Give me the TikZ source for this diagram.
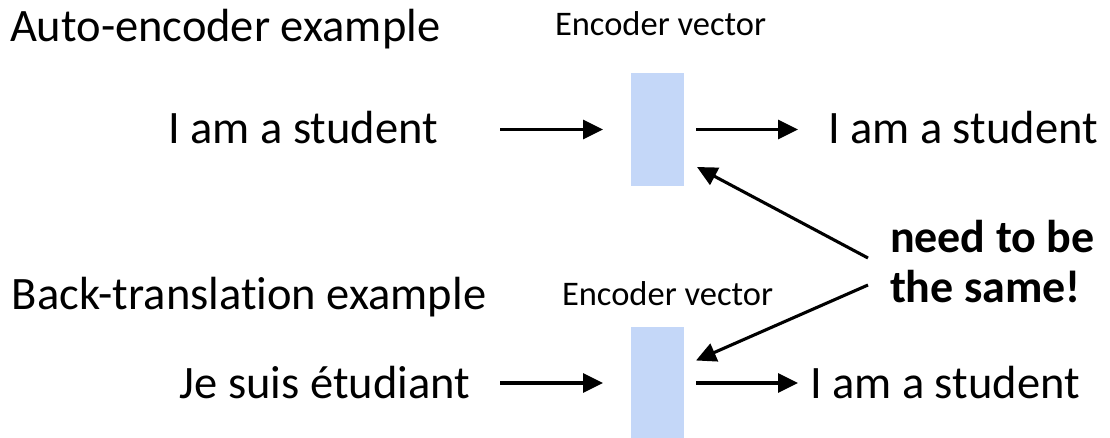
\documentclass[tikz,border=0pt]{standalone}
\usepackage{fontspec}
\setmainfont{Carlito}[Ligatures=NoCommon]
\usetikzlibrary{arrows.meta,positioning}
\definecolor{vecblue}{RGB}{196,215,248}
\tikzset{%
  >={Triangle[length=20pt,width=19pt]}, % filled arrow tips
  inner sep=0pt,%
  outer sep=0pt,%
  big text/.style={font=\fontsize{46.5}{50}\selectfont},%
  small text/.style={font=\fontsize{34.5}{40}\selectfont},%
  note text/.style={font=\fontsize{46}{50}\selectfont\bfseries,align=left},%
  vec box/.style={fill=vecblue,minimum width=53pt,minimum height=113pt},%
  link/.style={->,line width=3.1pt}%
}

\begin{document}
\begin{tikzpicture}[x=1pt,y=-1pt] % one unit = one pixel, y going down

\useasboundingbox (0,0) rectangle (1110,438);

% auto-encoder row
\node[big text,anchor=base west] (titleA) at (10,42) {Auto-encoder example};
\node[small text,anchor=base west] (labA) at (555,36) {Encoder vector};
\node[vec box] (vecA) at (657.5,129.5) {};
\node[big text,anchor=base east] (srcA) at (438,144) {I am a student};
\node[big text,anchor=base west] (tgtA) at (828,144) {I am a student};

% back-translation row
\node[big text,anchor=base west] (titleB) at (12,309) {Back-translation example};
\node[small text,anchor=base west] (labB) at (562,305) {Encoder vector};
\node[vec box] (vecB) at (657.5,383) {};
\node[big text,anchor=base east] (srcB) at (470,398) {Je suis étudiant};
\node[big text,anchor=base west] (tgtB) at (810,398) {I am a student};

% remark (base = last line)
\node[note text,anchor=base west] (note) at (890,302) {need to be\\the same!};
\coordinate (tailA) at (868,258);
\coordinate (tailB) at (868,285);

\draw[link,shorten <=62pt,shorten >=28pt] (vecA.west -| srcA.east) -- (vecA.west);
\draw[link,shorten <=12pt,shorten >=30pt] (vecA.east) -- (vecA.east -| tgtA.west);
\draw[link,shorten <=30pt,shorten >=28pt] (vecB.west -| srcB.east) -- (vecB.west);
\draw[link,shorten <=12pt,shorten >=12pt] (vecB.east) -- (vecB.east -| tgtB.west);

\draw[link] (tailA) -- ([xshift=13pt,yshift=19pt]vecA.south east);
\draw[link] (tailB) -- ([xshift=12pt,yshift=-34pt]vecB.north east);

\end{tikzpicture}
\end{document}
